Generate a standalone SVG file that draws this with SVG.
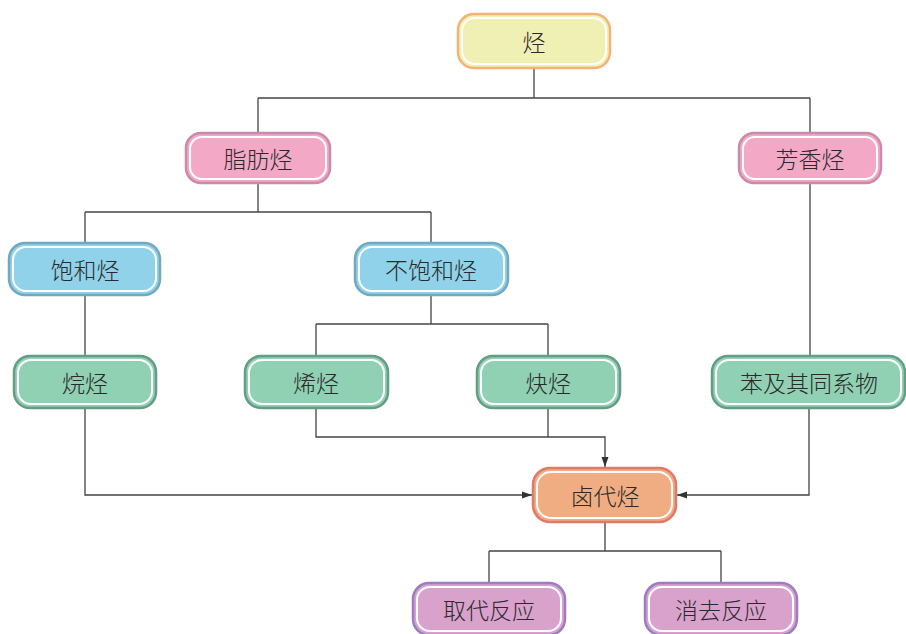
<svg xmlns="http://www.w3.org/2000/svg" width="906" height="634" viewBox="0 0 906 634">
<defs>
<marker id="arr" viewBox="0 0 10 10" refX="10" refY="5" markerWidth="10" markerHeight="10" orient="auto" markerUnits="userSpaceOnUse">
<path d="M0,1.5 L10,5 L0,8.5 z" fill="#333"/>
</marker>
</defs>
<style>
.outer{stroke-width:2.5}
.inner{fill:none;stroke:#ffffff;stroke-width:2}
.t{font-family:"Noto Sans CJK SC","Noto Sans",sans-serif;font-size:23px;font-weight:300;fill:#2a2a2a;text-anchor:middle;dominant-baseline:central}
.c{fill:none;stroke:#444;stroke-width:1.3}
.y{fill:#f1f0b4;stroke:#f4b277}
.p{fill:#f3a9c6;stroke:#c98aac}
.b{fill:#8fd2e9;stroke:#73a8bf}
.g{fill:#90d1b4;stroke:#629d84}
.o{fill:#f0ad82;stroke:#e07a68}
.v{fill:#d9a2cd;stroke:#9a7ebf}
</style>
<rect width="906" height="634" fill="#ffffff"/>
<g id="connectors">
<path class="c" d="M534,68 V98 M258,98 H810 M258,98 V133 M810,98 V133"/>
<path class="c" d="M258,183 V212 M85,212 H431 M85,212 V243 M431,212 V243"/>
<path class="c" d="M85,295 V356"/>
<path class="c" d="M431,295 V324 M316,324 H548 M316,324 V356 M548,324 V356"/>
<path class="c" d="M810,183 V356"/>
<path class="c" d="M85,408 V495 H532" marker-end="url(#arr)"/>
<path class="c" d="M316,408 V437 H605 V467" marker-end="url(#arr)"/>
<path class="c" d="M548,408 V437"/>
<path class="c" d="M809,408 V495 H677" marker-end="url(#arr)"/>
<path class="c" d="M605,522 V551 M489,551 H721 M489,551 V583 M721,551 V583"/>
</g>
<g id="n_ting">
<rect class="outer y" x="458" y="14" width="152" height="54" rx="16"/>
<rect class="inner" x="462" y="18" width="144" height="46" rx="13"/>
<text class="t" x="534" y="41">烃</text>
</g>
<g id="n_zhifang">
<rect class="outer p" x="186" y="133" width="144" height="50" rx="15"/>
<rect class="inner" x="190" y="137" width="136" height="42" rx="12"/>
<text class="t" x="258" y="158">脂肪烃</text>
</g>
<g id="n_fangxiang">
<rect class="outer p" x="739" y="133" width="142" height="50" rx="15"/>
<rect class="inner" x="743" y="137" width="134" height="42" rx="12"/>
<text class="t" x="810" y="158">芳香烃</text>
</g>
<g id="n_baohe">
<rect class="outer b" x="9" y="243" width="151" height="52" rx="16"/>
<rect class="inner" x="13" y="247" width="143" height="44" rx="13"/>
<text class="t" x="85" y="269">饱和烃</text>
</g>
<g id="n_bubaohe">
<rect class="outer b" x="355" y="243" width="153" height="52" rx="16"/>
<rect class="inner" x="359" y="247" width="145" height="44" rx="13"/>
<text class="t" x="431" y="269">不饱和烃</text>
</g>
<g id="n_wan">
<rect class="outer g" x="14" y="356" width="142" height="52" rx="16"/>
<rect class="inner" x="18" y="360" width="134" height="44" rx="13"/>
<text class="t" x="85" y="382">烷烃</text>
</g>
<g id="n_xi">
<rect class="outer g" x="245" y="356" width="143" height="52" rx="16"/>
<rect class="inner" x="249" y="360" width="135" height="44" rx="13"/>
<text class="t" x="316" y="382">烯烃</text>
</g>
<g id="n_que">
<rect class="outer g" x="477" y="356" width="143" height="52" rx="16"/>
<rect class="inner" x="481" y="360" width="135" height="44" rx="13"/>
<text class="t" x="548" y="382">炔烃</text>
</g>
<g id="n_ben">
<rect class="outer g" x="712" y="356" width="193" height="52" rx="16"/>
<rect class="inner" x="716" y="360" width="185" height="44" rx="13"/>
<text class="t" x="809" y="382">苯及其同系物</text>
</g>
<g id="n_ludai">
<rect class="outer o" x="533" y="468" width="143" height="54" rx="17"/>
<rect class="inner" x="537" y="472" width="135" height="46" rx="14"/>
<text class="t" x="605" y="495">卤代烃</text>
</g>
<g id="n_qudai">
<rect class="outer v" x="413" y="583" width="152" height="52" rx="16"/>
<rect class="inner" x="417" y="587" width="144" height="44" rx="13"/>
<text class="t" x="489" y="609">取代反应</text>
</g>
<g id="n_xiaoqu">
<rect class="outer v" x="645" y="583" width="152" height="52" rx="16"/>
<rect class="inner" x="649" y="587" width="144" height="44" rx="13"/>
<text class="t" x="721" y="609">消去反应</text>
</g>
</svg>
